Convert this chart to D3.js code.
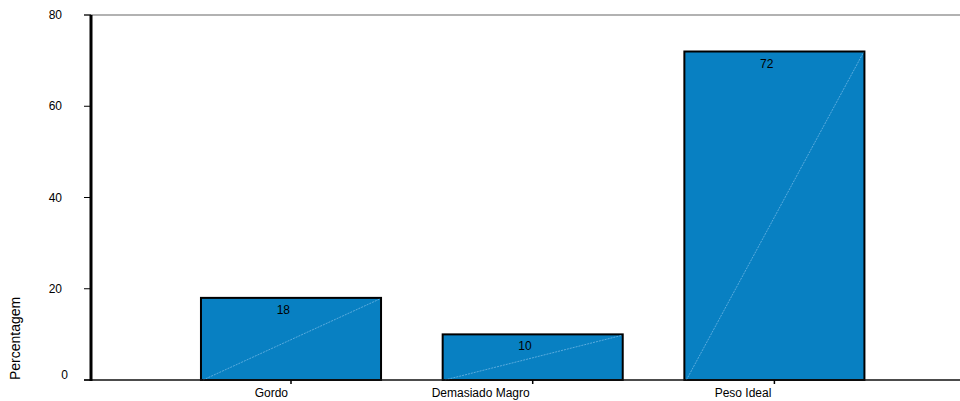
<!DOCTYPE html>
<html><head><meta charset="utf-8">
<script src="https://cdn.jsdelivr.net/npm/d3@7"></script>
<style>body{margin:0;background:#fff}svg{display:block;font-family:"Liberation Sans",Arial,sans-serif}</style>
</head><body><svg id="c" width="960" height="401"></svg>
<script>
const categories = ["Gordo", "Demasiado Magro", "Peso Ideal"];
const values = [18, 10, 72];
const yTicks = [0, 20, 40, 60, 80];
const yTitle = "Percentagem";

(function () {
const svg = d3.select("#c");
const pLeft = 91, pTop = 15, pBottom = 380, pRight = 960;
const y = d3.scaleLinear().domain([0, 80]).range([pBottom, pTop]);
const x = d3.scaleBand().domain(categories).range([91, 974.4]).paddingInner(0.255).paddingOuter(0.455);

// top gray line
svg.append("line").attr("x1", 84).attr("x2", pRight).attr("y1", y(80)).attr("y2", y(80))
  .attr("stroke", "#666").attr("stroke-width", 1.2);

// bars
const g = svg.append("g");
categories.forEach((c, i) => {
  const x0 = x(c), w = x.bandwidth(), yt = y(values[i]);
  g.append("rect").attr("x", x0).attr("y", yt).attr("width", w).attr("height", pBottom - yt)
    .attr("fill", "#0880c2").attr("stroke", "#000").attr("stroke-width", 2);
  g.append("line").attr("x1", x0 + 2).attr("y1", pBottom).attr("x2", x0 + w - 1).attr("y2", yt + 1)
    .attr("stroke", "#6fb6e4").attr("stroke-width", 0.8).attr("stroke-dasharray", "2,1");
  g.append("text").attr("x", x0 + w / 2 - 1).attr("y", yt + 16).attr("text-anchor", "end")
    .attr("font-size", 12).attr("fill", "#000").text(values[i]);
});

// x axis line and ticks
svg.append("line").attr("x1", 84).attr("x2", pRight).attr("y1", pBottom).attr("y2", pBottom)
  .attr("stroke", "#111").attr("stroke-width", 1.5);
categories.forEach(c => {
  const cx = x(c) + x.bandwidth() / 2;
  svg.append("line").attr("x1", cx).attr("x2", cx).attr("y1", pBottom).attr("y2", pBottom + 4)
    .attr("stroke", "#000").attr("stroke-width", 1.5);
  svg.append("text").attr("x", cx - 3).attr("y", 397).attr("text-anchor", "end")
    .attr("font-size", 12).attr("fill", "#000").text(c);
});

// y axis
svg.append("line").attr("x1", pLeft).attr("x2", pLeft).attr("y1", pTop).attr("y2", pBottom + 1)
  .attr("stroke", "#000").attr("stroke-width", 3);
yTicks.forEach(t => {
  svg.append("line").attr("x1", 84).attr("x2", pLeft).attr("y1", y(t)).attr("y2", y(t))
    .attr("stroke", "#000").attr("stroke-width", 1);
  svg.append("text").attr("x", t === 0 ? 68 : 62).attr("y", y(t) + (t === 0 ? -1 : 4))
    .attr("text-anchor", "end").attr("font-size", 12).attr("fill", "#000").text(t);
});

svg.append("text").attr("transform", "translate(20,380) rotate(-90)")
  .attr("text-anchor", "start").attr("font-size", 14).attr("fill", "#000").text(yTitle);
})();
</script></body></html>
